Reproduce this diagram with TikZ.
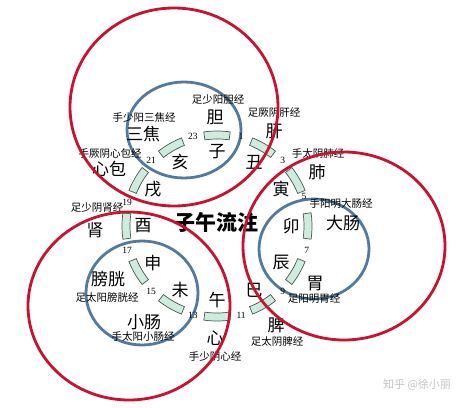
\documentclass[tikz,border=0pt]{standalone}
\usepackage{fontspec}
\setmainfont{Noto Sans CJK SC}
\newfontfamily\numfont{Liberation Serif}
\definecolor{ringred}{RGB}{200,18,48}
\definecolor{ringblue}{RGB}{82,122,158}
\definecolor{barfill}{RGB}{205,236,222}
\definecolor{baredge}{RGB}{70,90,80}
\definecolor{wm}{RGB}{195,195,195}
\begin{document}
\begin{tikzpicture}[x=1pt,y=-1pt,
 redring/.style={draw=ringred, line width=2.8pt},
 bluering/.style={draw=ringblue, line width=2.8pt},
 bar/.style={fill=barfill, draw=baredge, line width=0.7pt},
 organ/.style={font=\fontsize{17}{17}\selectfont, inner sep=0pt},
 branch/.style={font=\fontsize{17}{17}\selectfont, inner sep=0pt},
 mer/.style={font=\fontsize{10.5}{11}\selectfont, inner sep=0pt},
 num/.style={font=\numfont\fontsize{9.5}{9.5}\selectfont, inner sep=0pt},
 titlestyle/.style={font=\bfseries\fontsize{21}{21}\selectfont, inner sep=0pt},
 wmark/.style={font=\fontsize{11}{11}\selectfont, text=wm, inner sep=0pt}]
\useasboundingbox (0,0) rectangle (476,407);
\fill[white] (0,0) rectangle (476,407);

% blue circles
\draw[bluering] (184,130) ellipse [x radius=57, y radius=48];
\draw[bluering] (314,249) ellipse [x radius=55, y radius=50];
\draw[bluering] (142,293) ellipse [x radius=56, y radius=52];

% clock ring
\begin{scope}[shift={(217,226)}]
 \foreach \k in {0,...,11}{
   \pgfmathsetmacro\t{90-30*\k}
   \draw[bar] (\t-8:87pt) arc[start angle=\t-8, end angle=\t+8, radius=87pt]
     -- (\t+8:95pt) arc[start angle=\t+8, end angle=\t-8, radius=95pt] -- cycle;
 }
 \foreach \k/\b in {0/子,1/丑,2/寅,3/卯,4/辰,5/巳,6/午,7/未,8/申,9/酉,10/戌,11/亥}{
   \node[branch] (br\k) at ({90-30*\k}:74pt) {\b};
 }
 \foreach \n in {1,3,7,9,11,13,15,17,19,21,23}{
   \node[num] (n\n) at ({90-15*\n}:93pt) {\n};
 }
 \node[num] (n5) at (19:92pt) {5};
\end{scope}

% organs
\node[organ] (o1) at (215,117) {胆};
\node[organ] (o2) at (274,131) {肝};
\node[organ] (o3) at (317,172) {肺};
\node[organ] (o4) at (343,223) {大肠};
\node[organ] (o5) at (315,283) {胃};
\node[organ] (o6) at (276,325) {脾};
\node[organ] (o7) at (215,338) {心};
\node[organ] (o8) at (144,322) {小肠};
\node[organ] (o9) at (108,279) {膀胱};
\node[organ] (o10) at (95,230) {肾};
\node[organ] (o11) at (109,169) {心包};
\node[organ] (o12) at (143,134) {三焦};

% meridians
\node[mer] (m1) at (218,100) {足少阳胆经};
\node[mer] (m2) at (274,113) {足厥阴肝经};
\node[mer] (m3) at (318,154) {手太阴肺经};
\node[mer] (m4) at (341,204) {手阳明大肠经};
\node[mer] (m5) at (314,299) {足阳明胃经};
\node[mer] (m6) at (277,342) {足太阴脾经};
\node[mer] (m7) at (215,357) {手少阴心经};
\node[mer] (m8) at (143,337) {手太阳小肠经};
\node[mer] (m9) at (107,297) {足太阳膀胱经};
\node[mer] (m10) at (97,208) {足少阴肾经};
\node[mer] (m11) at (110,154) {手厥阴心包经};
\node[mer] (m12) at (144,117) {手少阳三焦经};

\node[titlestyle] (title) at (216,222) {子午流注};

% red circles
\draw[redring] (174,107) ellipse [x radius=104, y radius=99];
\draw[redring] (344,246) ellipse [x radius=101, y radius=94];
\draw[redring] (129,306) ellipse [x radius=101, y radius=94];

\node[wmark] (wm) at (417,385) {知乎 @徐小丽};
\end{tikzpicture}
\end{document}
